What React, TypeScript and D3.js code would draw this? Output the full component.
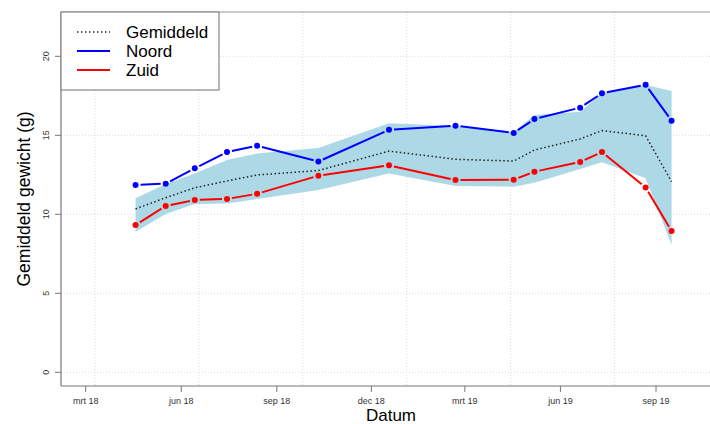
import React from "react";
import * as d3 from "d3";

const dates = [
  "2018-04-18", "2018-05-17", "2018-06-14", "2018-07-15", "2018-08-13", "2018-10-11",
  "2018-12-18", "2019-02-20", "2019-04-17", "2019-05-07", "2019-06-20", "2019-07-11",
  "2019-08-22", "2019-09-16",
];
const noord = [11.86, 11.94, 12.91, 13.94, 14.34, 13.34, 15.35, 15.61, 15.15, 16.03, 16.75, 17.66, 18.2, 15.92];
const zuid = [9.32, 10.53, 10.91, 10.97, 11.3, 12.44, 13.1, 12.17, 12.19, 12.7, 13.31, 13.94, 11.7, 8.94];
const gemiddeld = [10.34, 11.05, 11.68, 12.11, 12.49, 12.77, 14.0, 13.48, 13.37, 14.07, 14.77, 15.3, 14.97, 12.06];
const bandUpper = [11.01, 11.92, 12.59, 13.44, 13.85, 14.2, 15.76, 15.59, 15.21, 16.29, 16.49, 17.68, 18.18, 17.8];
const bandLower = [8.9, 10.02, 10.65, 10.68, 10.97, 11.54, 12.58, 11.79, 11.75, 12.0, 12.87, 13.29, 12.28, 8.06];

const xTickDates = ["2018-03-01", "2018-06-01", "2018-09-01", "2018-12-01", "2019-03-01", "2019-06-01", "2019-09-01"];
const xTickLabels = ["mrt 18", "jun 18", "sep 18", "dec 18", "mrt 19", "jun 19", "sep 19"];
const yTicks = [0, 5, 10, 15, 20];
const gridDayNumbers = [17600, 17700, 17800, 17900, 18000, 18100];
const legendLabels = ["Gemiddeld", "Noord", "Zuid"];

const W = 710;
const H = 424;
const left = 61;
const top = 12;
const bottom = 386;
const right = 720;
const font = "'Liberation Sans', Arial, Helvetica, sans-serif";
const axisCol = "#777";

const parse = (s: string) => new Date(s + "T00:00:00Z");

export default function App() {
  const x = d3.scaleUtc().domain([parse("2018-03-01"), parse("2019-09-01")]).range([85.7, 656]);
  const y = d3.scaleLinear().domain([0, 20]).range([372.3, 56.3]);

  const pts = dates.map((d, i) => ({
    x: x(parse(d)),
    n: y(noord[i]),
    z: y(zuid[i]),
    m: y(gemiddeld[i]),
    u: y(bandUpper[i]),
    l: y(bandLower[i]),
  }));

  const area = d3
    .area<{ x: number; u: number; l: number }>()
    .x((d) => d.x)
    .y0((d) => d.l)
    .y1((d) => d.u);
  const meanLine = d3
    .line<{ x: number; m: number }>()
    .x((d) => d.x)
    .y((d) => d.m);

  const gap = 5;
  const segs = (key: "n" | "z") => {
    const out: { x1: number; y1: number; x2: number; y2: number }[] = [];
    for (let i = 0; i < pts.length - 1; i++) {
      const a = pts[i];
      const b = pts[i + 1];
      const dx = b.x - a.x;
      const dy = b[key] - a[key];
      const len = Math.hypot(dx, dy);
      if (len <= 2 * gap) continue;
      const ux = dx / len;
      const uy = dy / len;
      out.push({ x1: a.x + ux * gap, y1: a[key] + uy * gap, x2: b.x - ux * gap, y2: b[key] - uy * gap });
    }
    return out;
  };

  const legendY = [32, 51, 70];

  return (
    <svg
      width={W}
      height={H}
      style={{ position: "absolute", left: 0, top: 0, background: "#fff" }}
      fontFamily={font}
    >
      <defs>
        <clipPath id="plotclip">
          <rect x={left} y={top} width={right - left} height={bottom - top} />
        </clipPath>
      </defs>
      <rect x={0} y={0} width={W} height={H} fill="#fff" />
      <g clipPath="url(#plotclip)">
        {gridDayNumbers.map((n) => {
          const gx = x(new Date(n * 86400000));
          return <line key={"gv" + n} x1={gx} x2={gx} y1={top} y2={bottom} stroke="#dcdcdc" strokeWidth={1} strokeDasharray="1,2" />;
        })}
        {yTicks.map((t) => (
          <line key={"gh" + t} x1={left} x2={right} y1={y(t)} y2={y(t)} stroke="#dcdcdc" strokeWidth={1} strokeDasharray="1,2" />
        ))}
        <path d={area(pts) || ""} fill="#ADD8E6" />
        <path d={meanLine(pts) || ""} fill="none" stroke="#222" strokeWidth={1.5} strokeDasharray="1.5,2.5" />
        {segs("n").map((s, i) => (
          <line key={"ns" + i} {...s} stroke="#0000FF" strokeWidth={2} />
        ))}
        {segs("z").map((s, i) => (
          <line key={"zs" + i} {...s} stroke="#FF0000" strokeWidth={2} />
        ))}
        {pts.map((p, i) => (
          <circle key={"np" + i} cx={p.x} cy={p.n} r={3} fill="#0000FF" />
        ))}
        {pts.map((p, i) => (
          <circle key={"zp" + i} cx={p.x} cy={p.z} r={3} fill="#FF0000" />
        ))}
      </g>
      {/* box: top, left, bottom */}
      <line x1={left} x2={W} y1={top} y2={top} stroke="#999" strokeWidth={1.2} />
      <line x1={left} x2={left} y1={top} y2={bottom} stroke={axisCol} strokeWidth={1.2} />
      <line x1={left} x2={W} y1={bottom} y2={bottom} stroke={axisCol} strokeWidth={1.2} />
      {/* x ticks */}
      {xTickDates.map((d, i) => {
        const tx = x(parse(d));
        return (
          <g key={"xt" + i}>
            <line x1={tx} x2={tx} y1={bottom} y2={bottom + 6} stroke={axisCol} strokeWidth={1} />
            <text x={tx} y={403.5} textAnchor="middle" fontSize={9} fill="#333">
              {xTickLabels[i]}
            </text>
          </g>
        );
      })}
      {/* y ticks */}
      {yTicks.map((t) => (
        <g key={"yt" + t}>
          <line x1={left - 6} x2={left} y1={y(t)} y2={y(t)} stroke={axisCol} strokeWidth={1} />
          <text
            x={49.5}
            y={y(t)}
            textAnchor="middle"
            fontSize={9}
            fill="#333"
            transform={`rotate(-90, 49.5, ${y(t)})`}
          >
            {t}
          </text>
        </g>
      ))}
      {/* axis titles */}
      <text x={391} y={421} textAnchor="middle" fontSize={17} fill="#000">
        Datum
      </text>
      <text
        x={30}
        y={199}
        textAnchor="middle"
        fontSize={17.5}
        fill="#000"
        transform="rotate(-90, 30, 199)"
      >
        Gemiddeld gewicht (g)
      </text>
      {/* legend */}
      <rect x={left} y={top} width={158} height={78} fill="#fff" stroke="#888" strokeWidth={1.2} />
      <line x1={77} x2={110} y1={legendY[0]} y2={legendY[0]} stroke="#222" strokeWidth={1.5} strokeDasharray="1.5,2.5" />
      <line x1={77} x2={110} y1={legendY[1]} y2={legendY[1]} stroke="#0000FF" strokeWidth={2} />
      <line x1={77} x2={110} y1={legendY[2]} y2={legendY[2]} stroke="#FF0000" strokeWidth={2} />
      {legendLabels.map((l, i) => (
        <text key={l} x={126} y={legendY[i] + 6} fontSize={17} fill="#000">
          {l}
        </text>
      ))}
    </svg>
  );
}
